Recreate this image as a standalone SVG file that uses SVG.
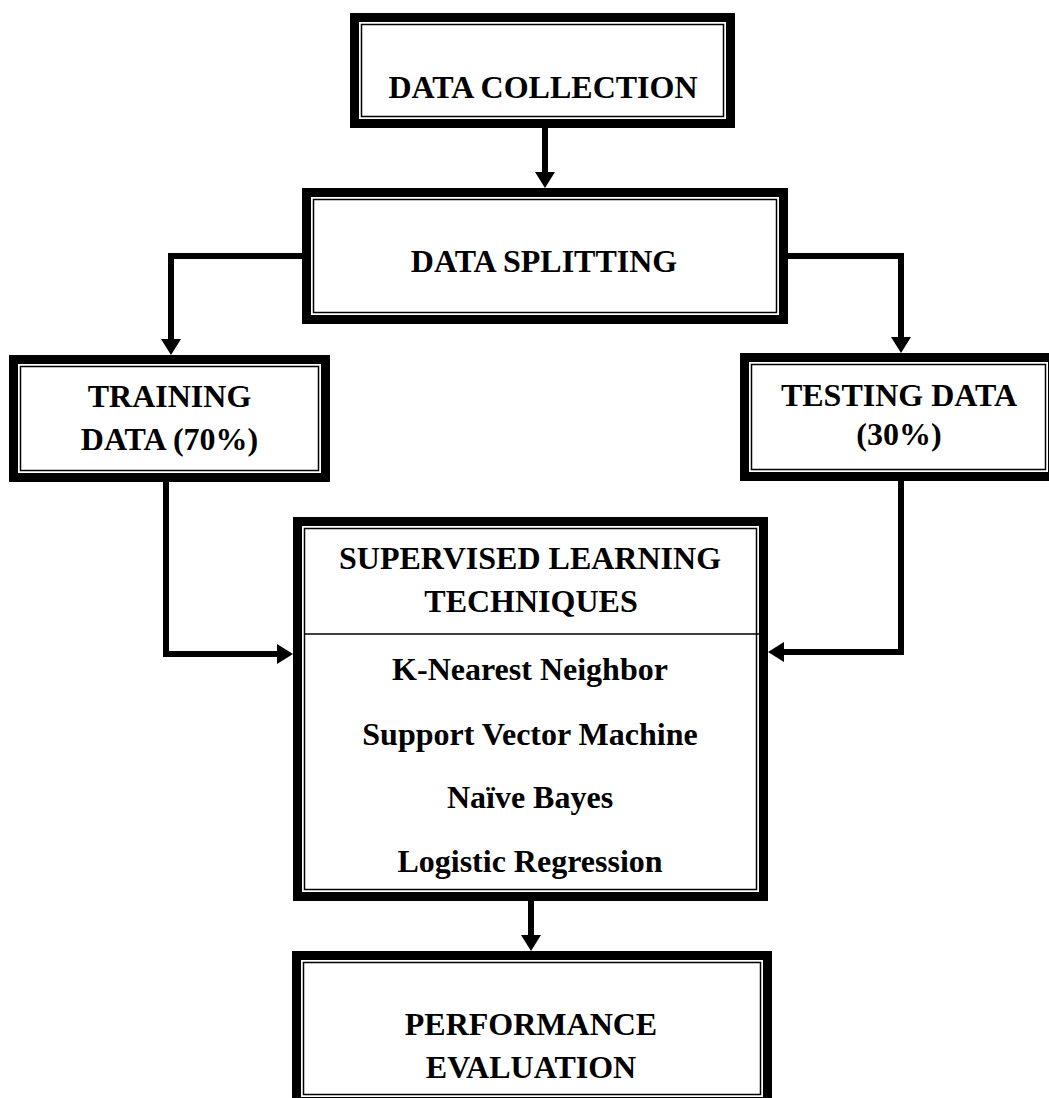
<svg xmlns="http://www.w3.org/2000/svg" width="1049" height="1098" viewBox="0 0 1049 1098">
<style>
  .outer { fill: #ffffff; stroke: #000000; stroke-width: 9; }
  .inner { fill: none; stroke: #000000; stroke-width: 1.5; }
  .divider { stroke: #000000; stroke-width: 1.5; }
  .label { font-family: "Liberation Serif", "Times New Roman", serif; font-weight: bold; font-size: 32px; fill: #000000; text-anchor: middle; }
  .conn { fill: none; stroke: #000000; stroke-width: 6; stroke-linejoin: miter; }
</style>
<defs>
  <marker id="arrow" markerUnits="userSpaceOnUse" viewBox="0 -10 16 20" refX="0" refY="0" markerWidth="16" markerHeight="20" orient="auto">
    <path d="M0,-10 L16,0 L0,10 Z" fill="#000000"/>
  </marker>
</defs>
<rect width="1049" height="1098" fill="#ffffff"/>

<g id="connectors">
  <path class="conn" d="M545,128 V172" marker-end="url(#arrow)"/>
  <path class="conn" d="M302,256 H171 V339" marker-end="url(#arrow)"/>
  <path class="conn" d="M788,256 H901 V337" marker-end="url(#arrow)"/>
  <path class="conn" d="M166,482 V654 H277" marker-end="url(#arrow)"/>
  <path class="conn" d="M901,481 V652 H784" marker-end="url(#arrow)"/>
  <path class="conn" d="M531,901 V935" marker-end="url(#arrow)"/>
</g>

<g id="data-collection">
  <rect class="outer" x="354.5" y="17.5" width="376" height="106"/>
  <rect class="inner" x="361.5" y="24.5" width="362" height="92"/>
  <text class="label" x="543" y="98">DATA COLLECTION</text>
</g>

<g id="data-splitting">
  <rect class="outer" x="306.5" y="192.5" width="477" height="127"/>
  <rect class="inner" x="313.5" y="199.5" width="463" height="113"/>
  <text class="label" x="544" y="272">DATA SPLITTING</text>
</g>

<g id="training-data">
  <rect class="outer" x="13.5" y="359.5" width="312" height="118"/>
  <rect class="inner" x="20.5" y="366.5" width="298" height="104"/>
  <text class="label" x="169.5" y="407">TRAINING</text>
  <text class="label" x="169.5" y="450">DATA (70%)</text>
</g>

<g id="testing-data">
  <rect class="outer" x="744.5" y="357.5" width="308" height="119"/>
  <rect class="inner" x="751.5" y="364.5" width="294" height="105"/>
  <text class="label" x="899" y="406">TESTING DATA</text>
  <text class="label" x="899" y="445">(30%)</text>
</g>

<g id="supervised-learning">
  <rect class="outer" x="297.5" y="521.5" width="466" height="375"/>
  <rect class="inner" x="304.5" y="528.5" width="452" height="361"/>
  <line class="divider" x1="304.5" y1="634" x2="764" y2="634"/>
  <text class="label" x="530" y="569">SUPERVISED LEARNING</text>
  <text class="label" x="531" y="612">TECHNIQUES</text>
  <text class="label" x="530" y="680">K-Nearest Neighbor</text>
  <text class="label" x="530" y="745">Support Vector Machine</text>
  <text class="label" x="530" y="808">Naïve Bayes</text>
  <text class="label" x="530" y="872">Logistic Regression</text>
</g>

<g id="performance-evaluation">
  <rect class="outer" x="296.5" y="955.5" width="471" height="146"/>
  <rect class="inner" x="303.5" y="962.5" width="457" height="132"/>
  <text class="label" x="531" y="1035">PERFORMANCE</text>
  <text class="label" x="531" y="1078">EVALUATION</text>
</g>
</svg>
